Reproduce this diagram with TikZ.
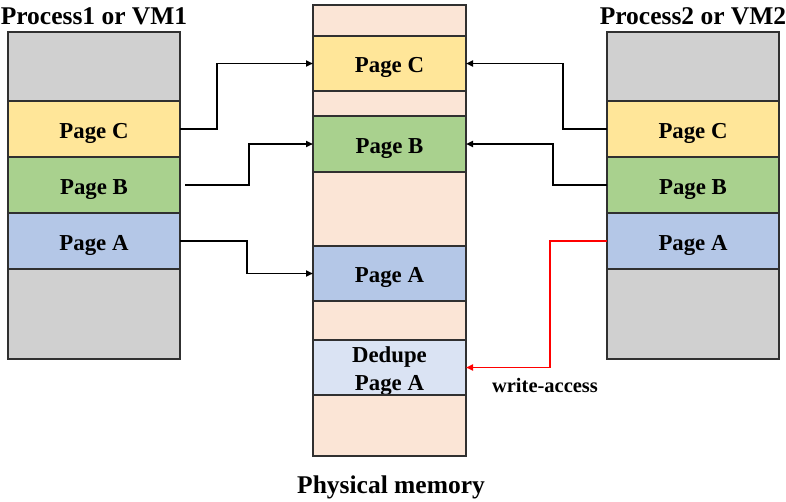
\documentclass[tikz,border=0pt]{standalone}
\usepackage{fontspec}
\setmainfont{Liberation Serif}
\usetikzlibrary{arrows.meta}
\definecolor{cgray}{HTML}{D0D0D0}
\definecolor{cyel}{HTML}{FFE699}
\definecolor{cgrn}{HTML}{A9D18E}
\definecolor{cblu}{HTML}{B4C7E7}
\definecolor{cpch}{HTML}{FBE5D6}
\definecolor{cded}{HTML}{DAE3F3}
\definecolor{cedge}{HTML}{303030}
\tikzset{
  seg/.style={draw=cedge, line width=1.4pt, inner sep=0pt, outer sep=0pt, anchor=north west,
    font=\fontsize{22.8}{28}\selectfont\bfseries, align=center, text height=20pt, text depth=2pt},
  lbox/.style={seg, minimum width=172pt},
  mbox/.style={seg, minimum width=153pt},
  ttl/.style={font=\fontsize{25.5}{30}\selectfont\bfseries, anchor=base, inner sep=0pt},
  arr/.style={line width=1.7pt, -{Triangle[length=7pt,width=6pt]}},
}
\begin{document}
\begin{tikzpicture}[x=1pt,y=-1pt]
\useasboundingbox (0,0) rectangle (786,501);
% left process
\node[lbox, fill=cgray, minimum height=69pt] (l0) at (8,32) {};
\node[lbox, fill=cyel, minimum height=56pt] (lc) at (8,101) {Page C};
\node[lbox, fill=cgrn, minimum height=56pt] (lb) at (8,157) {Page B};
\node[lbox, fill=cblu, minimum height=56pt] (la) at (8,213) {Page A};
\node[lbox, fill=cgray, minimum height=90pt] (l1) at (8,269) {};
% right process
\node[lbox, fill=cgray, minimum height=69pt] (r0) at (607,32) {};
\node[lbox, fill=cyel, minimum height=56pt] (rc) at (607,101) {Page C};
\node[lbox, fill=cgrn, minimum height=56pt] (rb) at (607,157) {Page B};
\node[lbox, fill=cblu, minimum height=56pt] (ra) at (607,213) {Page A};
\node[lbox, fill=cgray, minimum height=90pt] (r1) at (607,269) {};
% physical memory
\node[mbox, fill=cpch, minimum height=31pt] (m0) at (313,5) {};
\node[mbox, fill=cyel, minimum height=55pt] (mc) at (313,36) {Page C};
\node[mbox, fill=cpch, minimum height=25pt] (m1) at (313,91) {};
\node[mbox, fill=cgrn, minimum height=56pt] (mb) at (313,116) {Page B};
\node[mbox, fill=cpch, minimum height=74pt] (m2) at (313,172) {};
\node[mbox, fill=cblu, minimum height=55pt] (ma) at (313,246) {Page A};
\node[mbox, fill=cpch, minimum height=39pt] (m3) at (313,301) {};
\node[mbox, fill=cded, minimum height=55pt, text height=48pt, text depth=2pt] (md) at (313,340) {Dedupe\\Page A};
\node[mbox, fill=cpch, minimum height=61pt] (m4) at (313,395) {};
% titles
\node[ttl] (t1) at (94,24) {Process1 or VM1};
\node[ttl] (t2) at (693,24) {Process2 or VM2};
\node[ttl] (t3) at (391,493) {Physical memory};
\node[font=\fontsize{20.5}{24}\selectfont\bfseries, anchor=base, inner sep=0pt] (wa) at (545,392) {write-access};
% connectors
\draw[arr] (lc.east) -- ([xshift=37pt]lc.east) |- (mc.west);
\draw[arr] ([xshift=5pt]lb.east) -- ([xshift=69pt]lb.east) |- (mb.west);
\draw[arr] (la.east) -- ([xshift=67pt]la.east) |- (ma.west);
\draw[arr] (rc.west) -- ([xshift=-44pt]rc.west) |- (mc.east);
\draw[arr] (rb.west) -- ([xshift=-54pt]rb.west) |- (mb.east);
\draw[arr, red] (ra.west) -- ([xshift=-57pt]ra.west) |- (md.east);
\end{tikzpicture}
\end{document}
